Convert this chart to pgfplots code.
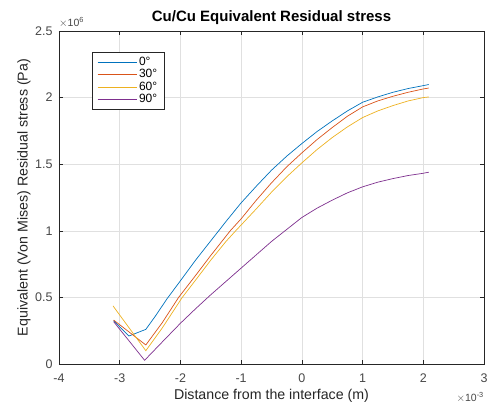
\documentclass[border=0pt]{standalone}
\usepackage{fontspec}
\setmainfont{Liberation Sans}
\usepackage{pgfplots}
\pgfplotsset{compat=1.18}

\definecolor{mblue}{rgb}{0,0.447,0.741}
\definecolor{morange}{rgb}{0.85,0.325,0.098}
\definecolor{myellow}{rgb}{0.929,0.694,0.125}
\definecolor{mpurple}{rgb}{0.494,0.184,0.556}
\definecolor{axgray}{HTML}{262626}
\definecolor{gridgray}{HTML}{E0E0E0}

\begin{document}
\begin{tikzpicture}
\useasboundingbox (-59pt,-44pt) rectangle (435pt,364pt);
\begin{axis}[
  at={(0,0)}, anchor=south west,
  scale only axis, width=425pt, height=333pt,
  xmin=-0.004, xmax=0.003, ymin=0, ymax=2500000,
  scaled ticks=false,
  xtick={-0.004,-0.003,-0.002,-0.001,0,0.001,0.002,0.003},
  xticklabels={-4,-3,-2,-1,0,1,2,3},
  ytick={0,500000,1000000,1500000,2000000,2500000},
  yticklabels={0,0.5,1,1.5,2,2.5},
  tick align=inside,
  major tick length=4pt,
  xtick pos=both, ytick pos=both,
  grid=major,
  major grid style={gridgray, line width=0.5pt},
  axis line style={axgray, line width=0.5pt},
  every tick/.style={axgray, line width=0.5pt},
  tick label style={font=\fontsize{12.5}{14}\selectfont, text=axgray!85},
  xticklabel style={yshift=-6pt},
  yticklabel style={xshift=-3pt},
  /pgf/number format/assume math mode=true,
  title={\bfseries Cu/Cu Equivalent Residual stress},
  title style={font=\fontsize{15}{17}\selectfont, at={([yshift=7pt]rel axis cs:0.5,1)}, anchor=center},
  xlabel={Distance from the interface (m)},
  ylabel={Equivalent (Von Mises) Residual stress (Pa)},
  label style={font=\fontsize{14.2}{16}\selectfont, text=axgray},
  xlabel style={at={([yshift=-32pt]rel axis cs:0.5,0)}, anchor=center},
  ylabel style={at={([xshift=-35pt]rel axis cs:0,0.5)}, anchor=center},
  legend style={at={(rel axis cs:0.078,0.937)}, anchor=north west,
    draw=axgray, fill=white, font=\fontsize{12}{13}\selectfont,
    inner xsep=5pt, inner ysep=3pt, row sep=-1.5pt},
  legend image code/.code={\draw[#1] (0pt,0pt) -- (39pt,0pt);},
  legend cell align=left,
  every axis plot/.append style={line width=0.7pt},
  clip=false,
]
\addplot[mblue] coordinates {
  (-0.00310,325000) (-0.00285,210000) (-0.00257,260000) (-0.00242,355000)
  (-0.00222,490000) (-0.00200,625000) (-0.00175,780000) (-0.00150,925000)
  (-0.00137,1000000) (-0.00125,1070000) (-0.00100,1210000) (-0.00075,1335000)
  (-0.00050,1455000) (-0.00025,1560000) (0,1655000) (0.00025,1745000)
  (0.00050,1825000) (0.00075,1900000) (0.00100,1965000) (0.00125,2005000)
  (0.00150,2040000) (0.00175,2068000) (0.00200,2090000) (0.00209,2098000)
};
\addplot[morange] coordinates {
  (-0.00310,330000) (-0.00257,143000) (-0.00230,310000) (-0.00203,500000)
  (-0.00175,665000) (-0.00150,815000) (-0.00118,1000000) (-0.00100,1090000)
  (-0.00075,1230000) (-0.00050,1360000) (-0.00025,1480000) (0,1585000)
  (0.00025,1685000) (0.00050,1775000) (0.00075,1860000) (0.00100,1930000)
  (0.00125,1975000) (0.00150,2010000) (0.00175,2040000) (0.00200,2065000)
  (0.00209,2072000)
};
\addplot[myellow] coordinates {
  (-0.00311,436000) (-0.00257,100000) (-0.00230,270000) (-0.00197,500000)
  (-0.00175,630000) (-0.00150,780000) (-0.00125,920000) (-0.00109,1000000)
  (-0.00075,1165000) (-0.00050,1290000) (-0.00025,1405000) (0,1510000)
  (0.00025,1610000) (0.00050,1700000) (0.00075,1780000) (0.00100,1850000)
  (0.00125,1900000) (0.00150,1940000) (0.00175,1975000) (0.00200,2000000)
  (0.00209,2005000)
};
\addplot[mpurple] coordinates {
  (-0.00310,318000) (-0.00259,28000) (-0.00230,165000) (-0.00200,306000)
  (-0.00175,415000) (-0.00150,520000) (-0.00125,620000) (-0.00100,720000)
  (-0.00075,820000) (-0.00050,920000) (-0.00025,1010000) (0,1100000)
  (0.00025,1170000) (0.00050,1230000) (0.00075,1285000) (0.00100,1330000)
  (0.00125,1365000) (0.00150,1392000) (0.00175,1415000) (0.00200,1432000)
  (0.00209,1440000)
};
\legend{0\textdegree, 30\textdegree, 60\textdegree, 90\textdegree}
\node[anchor=south west, font=\fontsize{10.5}{11}\selectfont, text=axgray!85, inner sep=0pt]
  at ([yshift=3pt]rel axis cs:0,1) {$\times$10\textsuperscript{6}};
\node[anchor=north east, font=\fontsize{10.5}{11}\selectfont, text=axgray!85, inner sep=0pt]
  at ([yshift=-28pt]rel axis cs:1,0) {$\times$10\textsuperscript{-3}};
\end{axis}
\end{tikzpicture}
\end{document}
